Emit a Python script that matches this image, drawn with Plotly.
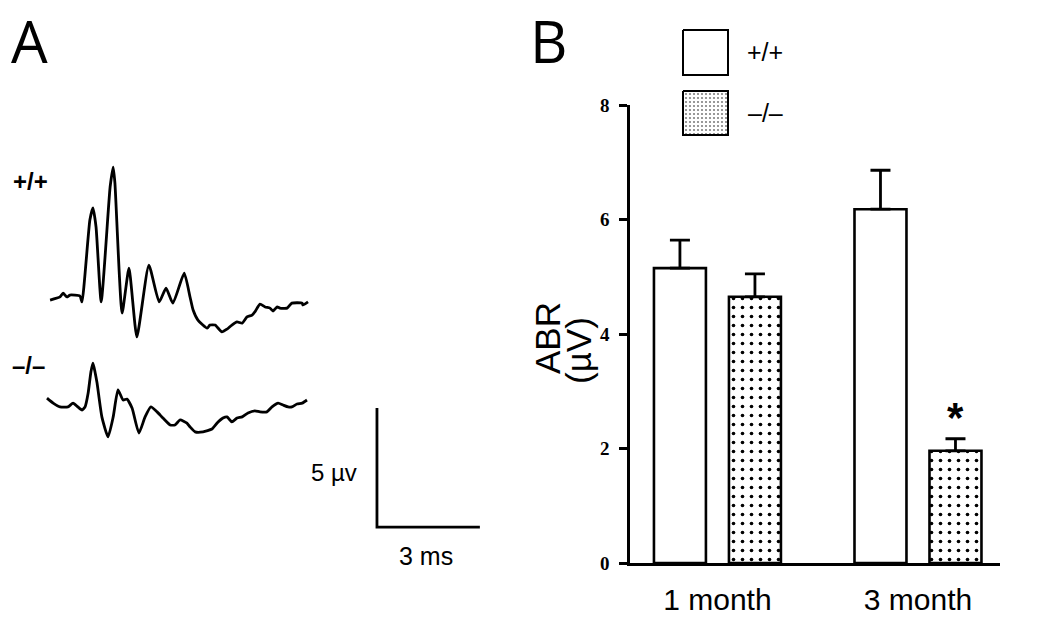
import plotly.graph_objects as go

W, H = 1050, 622

# ---------------- Panel A data (time in ms, amplitude in µV) ----------------
wt_time = [0.06, 0.35, 0.44, 0.55, 0.64, 0.93, 0.99, 1.22, 1.31, 1.40, 1.55, 1.81, 1.90, 1.95,
           2.16, 2.36, 2.59, 2.94, 3.24, 3.44, 3.64, 3.97, 4.14, 4.23, 4.37, 4.64, 4.72, 4.87,
           5.07, 5.22, 5.36, 5.51, 5.66, 5.80, 5.95, 6.03, 6.18, 6.33, 6.47, 6.56,
           6.68, 6.76, 6.97, 7.11, 7.41, 7.43, 7.58]
wt_amp = [0.00, 0.13, 0.29, 0.13, 0.21, 0.17, -0.08, 3.36, 3.87, 3.07, -0.08, 4.75, 5.59, 4.92,
          -0.55, 1.34, -1.55, 1.47, -0.08, 0.50, -0.13, 1.13, 0.13, -0.42, -0.84, -1.18, -1.05, -1.05,
          -1.34, -1.22, -1.05, -0.92, -0.97, -0.71, -0.63, -0.50, -0.17, -0.29, -0.34, -0.46,
          -0.29, -0.34, -0.34, -0.13, -0.13, -0.21, -0.08]

ko_time = [-0.03, 0.15, 0.35, 0.58, 0.73, 0.87, 0.99, 1.08, 1.17, 1.25, 1.31, 1.37, 1.43, 1.57,
           1.75, 1.90, 2.04, 2.19, 2.30, 2.45, 2.65, 2.83, 3.00, 3.18, 3.35, 3.56,
           3.70, 3.85, 4.05, 4.14, 4.29, 4.52, 4.78, 4.93, 5.10, 5.22, 5.36, 5.51,
           5.66, 5.83, 6.03, 6.18, 6.38, 6.53, 6.71, 6.85, 7.00, 7.11, 7.26, 7.41, 7.55]
ko_amp = [0.29, 0.08, -0.08, -0.08, 0.08, -0.08, -0.21, -0.08, 0.50, 1.39, 1.76, 1.39, 0.92, -0.50,
          -1.34, -0.50, 0.63, 0.21, 0.25, -0.13, -1.18, -0.50, -0.08, -0.29, -0.55, -0.84,
          -0.84, -0.63, -0.76, -0.92, -1.13, -1.13, -1.01, -0.76, -0.55, -0.50, -0.71, -0.55,
          -0.50, -0.34, -0.25, -0.29, -0.29, -0.08, 0.08, 0.00, -0.08, -0.08, 0.04, 0.08, 0.21]

trace_labels = ["+/+", "\u2013/\u2013"]
scale_uv = 5      # µV
scale_ms = 3      # ms
scale_labels = ["5 \u00b5v", "3 ms"]

# ---------------- Panel B data ----------------
ages = ["1 month", "3 month"]
wt_abr = [5.15, 6.18]
wt_sem = [0.49, 0.68]
ko_abr = [4.65, 1.96]
ko_sem = [0.40, 0.21]
y_ticks = [0, 2, 4, 6, 8]
group_names = ["+/+", "\u2013/\u2013"]

# ---------------- styling / layout constants ----------------
KO_OFFSET = -4.41          # vertical offset of -/- trace (µV)
SCALE_X0, SCALE_Y0 = 9.59, -9.54
SANS = "Liberation Sans, Arial, sans-serif"
SERIF = "Liberation Serif, Times New Roman, serif"


def fx(px):
    return px / W


def fy(py):
    return 1 - py / H


fig = go.Figure()

line_style = dict(color="black", width=2.8, shape="spline", smoothing=0.5)
fig.add_trace(go.Scatter(x=wt_time, y=wt_amp, mode="lines", line=line_style,
                         xaxis="x", yaxis="y", showlegend=False, hoverinfo="skip"))
fig.add_trace(go.Scatter(x=ko_time, y=[a + KO_OFFSET for a in ko_amp], mode="lines",
                         line=line_style,
                         xaxis="x", yaxis="y", showlegend=False, hoverinfo="skip"))
# scale bar
fig.add_trace(go.Scatter(x=[SCALE_X0, SCALE_X0, SCALE_X0 + scale_ms],
                         y=[SCALE_Y0 + scale_uv, SCALE_Y0, SCALE_Y0],
                         mode="lines", line=dict(color="black", width=2.8),
                         xaxis="x", yaxis="y", showlegend=False, hoverinfo="skip"))

# Panel B bars
fig.add_trace(go.Bar(x=ages, y=wt_abr, name=group_names[0], xaxis="x2", yaxis="y2",
                     marker=dict(color="white", line=dict(color="black", width=2.6)),
                     error_y=dict(type="data", array=wt_sem, arrayminus=[0, 0], symmetric=False,
                                  color="black", thickness=2.8, width=10),
                     showlegend=False))
fig.add_trace(go.Bar(x=ages, y=ko_abr, name=group_names[1], xaxis="x2", yaxis="y2",
                     marker=dict(color="white", line=dict(color="black", width=2.6),
                                 pattern=dict(shape=".", fgcolor="black", bgcolor="white",
                                              fgopacity=1, size=9, solidity=0.13)),
                     error_y=dict(type="data", array=ko_sem, arrayminus=[0, 0], symmetric=False,
                                  color="black", thickness=2.8, width=10),
                     showlegend=False))

# Legend boxes (pixel overlay axis)
fig.add_trace(go.Scatter(x=[683, 728, 728, 683, 683], y=[30, 30, 75, 75, 30],
                         mode="lines", fill="toself", fillcolor="white",
                         line=dict(color="black", width=2),
                         xaxis="x3", yaxis="y3", showlegend=False, hoverinfo="skip"))
fig.add_trace(go.Scatter(x=[683, 728, 728, 683, 683], y=[91, 91, 135, 135, 91],
                         mode="lines", fill="toself",
                         fillpattern=dict(shape=".", fgcolor="black", bgcolor="white",
                                          size=4, solidity=0.22),
                         line=dict(color="black", width=2),
                         xaxis="x3", yaxis="y3", showlegend=False, hoverinfo="skip"))

ann = []


def add_text(text, px, py, size, family=SANS, weight="normal", angle=0):
    ann.append(dict(text=text, x=fx(px), y=fy(py), xref="paper", yref="paper",
                    xanchor="center", yanchor="middle", showarrow=False, textangle=angle,
                    font=dict(family=family, size=size, color="black", weight=weight)))


add_text("A", 29, 40, 58, family="Open Sans, DejaVu Sans, sans-serif")
add_text("B", 548, 40, 58, family="Open Sans, DejaVu Sans, sans-serif")
add_text(trace_labels[0], 30, 181, 24, weight="bold")
add_text(trace_labels[1], 28, 365, 24, weight="bold")
add_text(scale_labels[0], 334, 473, 24)
add_text(scale_labels[1], 426, 556, 25)
add_text("ABR", 547, 338, 35, angle=-90)
add_text("(\u00b5V)", 578, 351, 35, angle=-90)
add_text(group_names[0], 765, 52, 25)
add_text(group_names[1], 765, 113, 25)
add_text("*", 955, 418, 42, weight="bold")

fig.update_layout(
    width=W, height=H,
    margin=dict(l=0, r=0, t=0, b=0, pad=0),
    paper_bgcolor="white", plot_bgcolor="rgba(0,0,0,0)",
    barmode="group", bargap=0.252, bargroupgap=0.307,
    showlegend=False,
    annotations=ann,
    xaxis=dict(domain=[0, fx(520)], range=[-1.40, 13.76], visible=False, fixedrange=True,
               automargin=False),
    yaxis=dict(domain=[0, 1], range=[-13.53, 12.61], visible=False, fixedrange=True,
               automargin=False),
    xaxis2=dict(domain=[fx(630), fx(1000)], range=[-0.436, 1.409], anchor="y2",
                showline=True, linecolor="black", linewidth=2.5, ticks="",
                showgrid=False, zeroline=False, automargin=False,
                tickfont=dict(family=SANS, size=30, color="black"),
                ticklabelstandoff=8, fixedrange=True),
    yaxis2=dict(domain=[fy(563), fy(105)], range=[0, 8], anchor="x2",
                showline=True, linecolor="black", linewidth=2.5,
                ticks="outside", ticklen=8, tickwidth=2.5, tickcolor="black",
                tickvals=y_ticks, showgrid=False, zeroline=False, automargin=False,
                tickfont=dict(family=SERIF, size=19, color="black", weight="bold"),
                ticklabelstandoff=6, fixedrange=True),
    xaxis3=dict(domain=[0, 1], range=[0, W], visible=False, anchor="y3", fixedrange=True,
                automargin=False),
    yaxis3=dict(domain=[0, 1], range=[H, 0], visible=False, anchor="x3", fixedrange=True,
                automargin=False),
)

fig.write_html("out.html", config={"displayModeBar": False},
               post_script="document.body.style.margin='0';document.body.style.overflow='hidden';")
